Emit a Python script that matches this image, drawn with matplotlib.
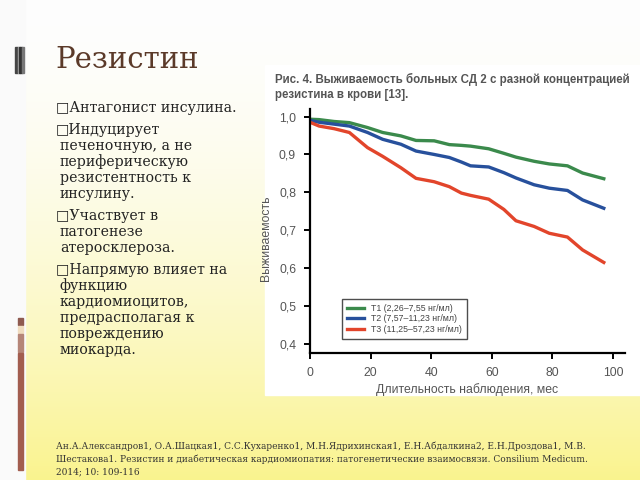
import numpy as np
import matplotlib.pyplot as plt
from matplotlib.patches import Rectangle

# survival curves
months = [0, 3, 8, 13, 19, 24, 30, 35, 41, 46, 50, 53, 59, 64, 68, 74, 79, 85, 90, 97]
t1 = [0.993, 0.992, 0.987, 0.984, 0.971, 0.958, 0.949, 0.937, 0.936, 0.926,
      0.924, 0.922, 0.915, 0.903, 0.893, 0.882, 0.875, 0.870, 0.851, 0.836]
t2 = [0.990, 0.985, 0.980, 0.975, 0.958, 0.940, 0.927, 0.909, 0.900, 0.892,
      0.880, 0.870, 0.867, 0.852, 0.838, 0.820, 0.811, 0.805, 0.780, 0.758]
t3 = [0.985, 0.975, 0.968, 0.958, 0.918, 0.895, 0.865, 0.837, 0.828, 0.815,
      0.798, 0.792, 0.782, 0.755, 0.725, 0.710, 0.692, 0.682, 0.648, 0.615]
labels = ['Т1 (2,26–7,55 нг/мл)', 'Т2 (7,57–11,23 нг/мл)', 'Т3 (11,25–57,23 нг/мл)']
colors = ['#3b8a4c', '#27509c', '#e2452b']

yticks = [0.4, 0.5, 0.6, 0.7, 0.8, 0.9, 1.0]
xticks = [0, 20, 40, 60, 80, 100]

bullets = [
    ['Антагонист инсулина.'],
    ['Индуцирует', 'печеночную, а не', 'периферическую', 'резистентность к', 'инсулину.'],
    ['Участвует в', 'патогенезе', 'атеросклероза.'],
    ['Напрямую влияет на', 'функцию', 'кардиомиоцитов,', 'предрасполагая к', 'повреждению', 'миокарда.'],
]
ref = ['Ан.А.Александров1, О.А.Шацкая1, С.С.Кухаренко1, М.Н.Ядрихинская1, Е.Н.Абдалкина2, Е.Н.Дроздова1, М.В.',
       'Шестакова1. Резистин и диабетическая кардиомиопатия: патогенетические взаимосвязи. Consilium Medicum.',
       '2014; 10: 109-116']

fig = plt.figure(figsize=(6.4, 4.8), dpi=100)

# background: white on the left, gradient to yellow downwards
bg = fig.add_axes([0, 0, 1, 1])
bg.set_xlim(0, 640)
bg.set_ylim(480, 0)
bg.axis('off')
top = np.array([0.995, 0.995, 0.995])
bot = np.array([0.98, 0.955, 0.56])
g = np.linspace(0, 1, 256) ** 1.7
grad = top[None, :] * (1 - g[:, None]) + bot[None, :] * g[:, None]
bg.imshow(grad[:, None, :], extent=[25, 640, 480, 0], aspect='auto')
bg.add_patch(Rectangle((0, 0), 25, 480, color='#fafafa', zorder=1))
# decorative bars
for x0, c in [(15, '#444444'), (17.5, '#aaaaaa'), (19, '#333333'), (21.5, '#777777')]:
    bg.add_patch(Rectangle((x0, 47), 2.5, 26, color=c, zorder=2))
for y0, h, c in [(318, 7, '#8e5a50'), (326, 7, '#f0dcc0'), (334, 18, '#b58578'), (353, 117, '#a25d4f')]:
    bg.add_patch(Rectangle((18, y0), 5, h, color=c, zorder=2))
# white panel behind the chart
bg.add_patch(Rectangle((265, 65), 375, 330, color='white', zorder=2))

fig.text(55 / 640, 1 - 60 / 480, 'Резистин', fontsize=21, color='#5b3a29',
         family='DejaVu Serif', va='center', ha='left')

y = 108
for b in bullets:
    for i, line in enumerate(b):
        txt = ('□' + line) if i == 0 else line
        xx = 56 if i == 0 else 60
        fig.text(xx / 640, 1 - y / 480, txt, fontsize=10.2, color='#222222',
                 family=['DejaVu Serif', 'DejaVu Sans'], va='center', ha='left')
        y += 16
    y += 6

for i, line in enumerate(ref):
    fig.text(56 / 640, 1 - (446 + i * 13) / 480, line, fontsize=6.5, color='#333333',
             family='DejaVu Serif', va='center', ha='left')

fig.text(275 / 640, 1 - 79 / 480, 'Рис. 4. Выживаемость больных СД 2 с разной концентрацией',
         fontsize=8.3, weight='bold', color='#555555', family='Liberation Sans', va='center')
fig.text(275 / 640, 1 - 95 / 480, 'резистина в крови [13].',
         fontsize=8.3, weight='bold', color='#555555', family='Liberation Sans', va='center')

ax = fig.add_axes([310 / 640, 1 - 353 / 480, 315 / 640, (353 - 109) / 480])
ax.patch.set_alpha(0)
for yy, lab, c in zip([t1, t2, t3], labels, colors):
    ax.plot(months, yy, color=c, lw=2.4, label=lab, solid_joinstyle='round')
ax.set_xlim(0, 104)
ax.set_ylim(0.376, 1.02)
ax.set_xticks(xticks)
ax.set_yticks(yticks)
ax.set_yticklabels([f'{v:.1f}'.replace('.', ',') for v in yticks])
ax.spines['top'].set_visible(False)
ax.spines['right'].set_visible(False)
for s in ['left', 'bottom']:
    ax.spines[s].set_linewidth(1.6)
ax.tick_params(length=4, width=1.4, labelsize=8.8, labelcolor='#555555', pad=6)
for lab in ax.get_xticklabels() + ax.get_yticklabels():
    lab.set_family('Liberation Sans')
ax.set_ylabel('Выживаемость', fontsize=8.8, color='#555555', family='Liberation Sans', labelpad=3)
ax.yaxis.set_label_coords(-0.12, 0.47)
ax.set_xlabel('Длительность наблюдения, мес', fontsize=8.8, color='#555555',
              family='Liberation Sans', labelpad=3)
leg = ax.legend(loc='lower left', bbox_to_anchor=(0.089, 0.041),
                frameon=True, fancybox=False, handlelength=2.0, borderpad=0.5,
                labelspacing=0.2, prop={'family': 'Liberation Sans', 'size': 6.3})
leg.get_frame().set_edgecolor('#222222')
leg.get_frame().set_linewidth(1.0)
for t in leg.get_texts():
    t.set_color('#444444')

fig.savefig('out.png', dpi=100)
